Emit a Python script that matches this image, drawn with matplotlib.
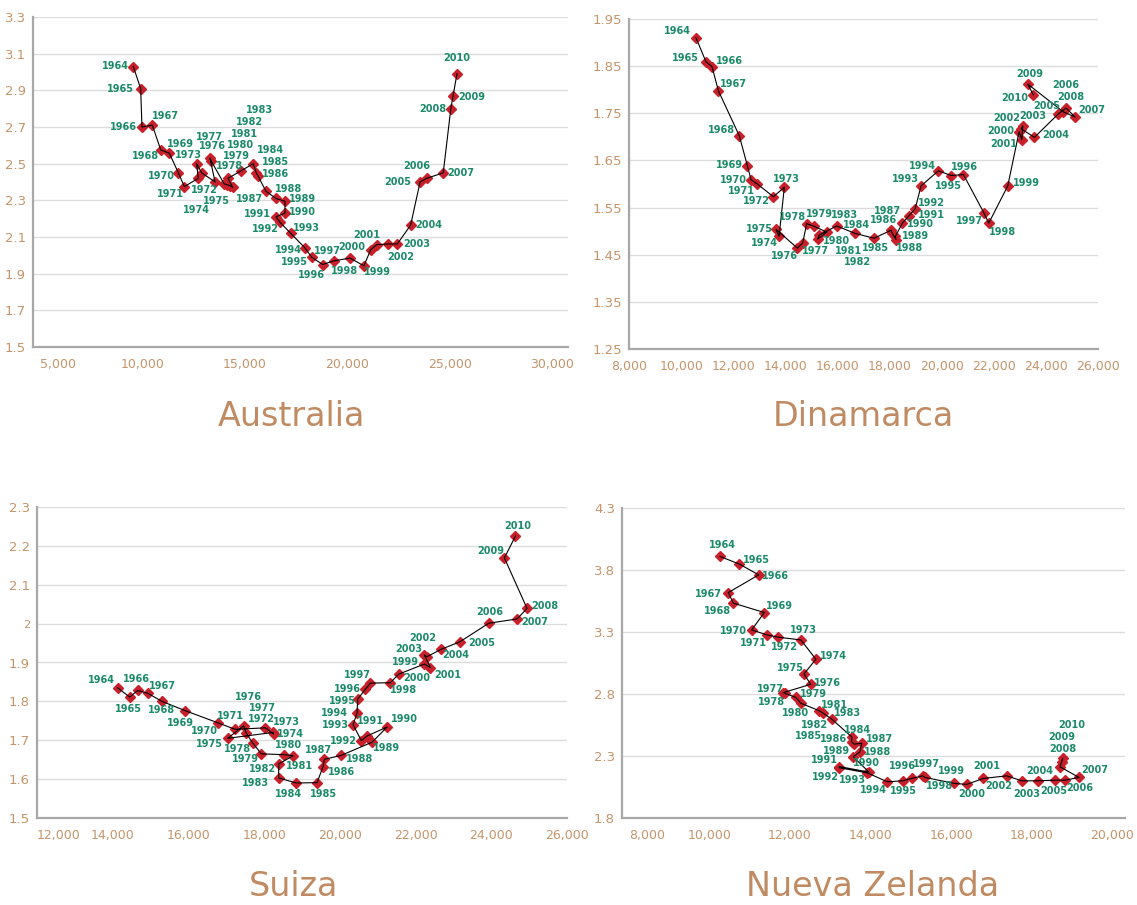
import matplotlib
matplotlib.use('Agg')
import matplotlib.pyplot as plt
from matplotlib import font_manager, transforms

years = list(range(1964, 2011))

aus_x = [9550, 9910, 9975, 10480, 10890, 11310, 11750, 12040, 12720, 12640,
         12890, 13540, 13290, 13350, 13980, 14110, 14270, 14400, 14170, 14790,
         15400, 15550, 15650, 16020, 16510, 16950, 16950, 16510, 16710, 17230,
         17930, 18250, 18790, 19340, 20120, 20800, 21130, 21420, 21990, 22430,
         23080, 23540, 23860, 24670, 25040, 25150, 25340]
aus_y = [3.03, 2.91, 2.70, 2.71, 2.575, 2.557, 2.45, 2.375, 2.42, 2.50,
         2.45, 2.40, 2.53, 2.515, 2.39, 2.386, 2.38, 2.37, 2.42, 2.46,
         2.50, 2.45, 2.43, 2.35, 2.31, 2.295, 2.23, 2.21, 2.18, 2.12,
         2.04, 1.99, 1.95, 1.97, 1.985, 1.943, 2.03, 2.058, 2.062, 2.062,
         2.165, 2.40, 2.42, 2.45, 2.80, 2.87, 2.99]

din_x = [10572, 10956, 11186, 11429, 12235, 12542, 12684, 12926, 13540, 13962,
         13759, 13643, 14461, 14666, 14820, 15112, 15590, 15240, 15305, 15970,
         16688, 17406, 18058, 18096, 18250, 18224, 18492, 18749, 18980, 19210,
         19874, 20362, 20835, 21628, 21807, 22537, 22972, 23075, 23113, 23050,
         23561, 24482, 24778, 25124, 24670, 23303, 23518]
din_y = [1.910, 1.859, 1.849, 1.798, 1.702, 1.639, 1.609, 1.600, 1.573, 1.593,
         1.489, 1.504, 1.464, 1.475, 1.516, 1.510, 1.498, 1.483, 1.492, 1.511,
         1.495, 1.485, 1.502, 1.496, 1.482, 1.489, 1.517, 1.533, 1.547, 1.596,
         1.628, 1.618, 1.620, 1.538, 1.517, 1.596, 1.711, 1.694, 1.723, 1.717,
         1.699, 1.749, 1.761, 1.742, 1.753, 1.812, 1.789]

sui_x = [14130, 14447, 14658, 14922, 15302, 15918, 16772, 17239, 18032, 18251,
         18235, 17036, 17459, 17530, 17697, 17926, 18516, 18764, 18384, 18384,
         18851, 19398, 19556, 19591, 20032, 20851, 21247, 20719, 20568, 20349,
         20454, 20471, 20674, 20806, 21334, 21553, 22233, 22391, 22233, 22304,
         22674, 23166, 23933, 24680, 24945, 24346, 24637]
sui_y = [1.835, 1.811, 1.828, 1.821, 1.800, 1.776, 1.745, 1.728, 1.732, 1.716,
         1.720, 1.705, 1.737, 1.718, 1.693, 1.665, 1.663, 1.660, 1.639, 1.603,
         1.590, 1.591, 1.632, 1.651, 1.661, 1.695, 1.734, 1.711, 1.699, 1.740,
         1.770, 1.806, 1.831, 1.847, 1.848, 1.870, 1.896, 1.887, 1.919, 1.915,
         1.934, 1.953, 2.001, 2.012, 2.039, 2.169, 2.225]

nz_x = [10260, 10740, 11222, 10467, 10591, 11361, 11048, 11421, 11709, 12271,
        12643, 12347, 12512, 11833, 11875, 12140, 12271, 12727, 12826, 13035,
        13534, 13531, 13589, 13780, 13738, 13572, 13960, 13224, 13224, 13920,
        14416, 14799, 15022, 15295, 15353, 16081, 16389, 16801, 17382, 17754,
        18167, 18582, 18830, 19178, 18707, 18748, 18773]
nz_y = [3.909, 3.848, 3.761, 3.618, 3.533, 3.457, 3.317, 3.277, 3.258, 3.236,
        3.080, 2.962, 2.878, 2.811, 2.806, 2.773, 2.725, 2.665, 2.644, 2.598,
        2.454, 2.415, 2.396, 2.402, 2.334, 2.294, 2.170, 2.215, 2.205, 2.164,
        2.092, 2.100, 2.119, 2.140, 2.127, 2.079, 2.071, 2.119, 2.140, 2.100,
        2.100, 2.105, 2.105, 2.127, 2.213, 2.253, 2.281]

# where each year label sits relative to its marker (pixels, right / down)
aus_off = [(-18, -1), (-20, 0), (-19, 0), (13, -9), (-15, 6), (11, -9), (-17, 3), (-14, 7), (6, 12), (-8, -9),
           (-5, 37), (1, 19), (2, -12), (-2, -24), (5, -18), (10, -29), (10, -41), (12, -54), (22, -56), (19, -61),
           (17, -14), (19, -11), (17, -3), (-16, 8), (13, -10), (18, -2), (17, -1), (-19, -3), (-15, 7), (16, -5),
           (-17, 2), (-17, 5), (-11, 10), (-7, -10), (-5, 13), (14, 6), (-19, -3), (-10, -10), (12, 13), (19, 0),
           (18, 0), (-22, 0), (-10, -12), (18, 0), (-18, 0), (19, 1), (0, -16)]
din_off = [(-19, -7), (-21, -4), (17, -6), (15, -7), (-18, -6), (-18, -1), (-18, 0), (-16, 7), (-17, 4), (2, -8),
           (-15, 7), (-17, 0), (-13, 8), (13, 8), (-14, -7), (5, -12), (10, 9), (31, 12), (38, 27), (8, -11),
           (1, -9), (1, 10), (-8, -10), (-5, -22), (13, 8), (20, 0), (18, 1), (22, -1), (16, -6), (-16, -7),
           (-16, -5), (-3, 10), (1, -8), (-15, 8), (14, 9), (19, -3), (-18, -1), (-18, 4), (-16, -8), (12, -13),
           (21, -2), (-12, -8), (0, -23), (17, -7), (7, -15), (2, -10), (-19, 3)]
sui_off = [(-16, -8), (-1, 12), (-1, -11), (15, -7), (-1, 9), (-5, 12), (-13, 8), (-5, -13), (-4, -9), (13, -12),
           (17, 2), (-18, 6), (5, -29), (16, -25), (-15, 6), (-16, 5), (5, -10), (6, 10), (-16, 5), (-23, 5),
           (-8, 11), (6, 11), (18, 5), (-6, -9), (18, 4), (14, 6), (17, -8), (3, -15), (-18, 0), (-18, 0),
           (-23, 0), (-15, 2), (-18, 0), (-13, -8), (13, 7), (7, -12), (-8, 14), (17, 7), (-2, -17), (-18, -8),
           (15, 6), (22, 1), (1, -11), (18, 3), (18, -2), (-14, -7), (2, -10)]
nz_off = [(2, -11), (17, -4), (17, 1), (-20, 1), (-16, 8), (15, -7), (-18, 1), (-13, 8), (6, 10), (2, -10),
          (18, -3), (-14, -6), (17, -1), (-13, -4), (-13, 9), (18, -3), (-5, 10), (15, -6), (-9, 12), (16, -6),
          (6, -7), (-43, -6), (-20, -5), (18, -4), (18, 0), (-17, -6), (-2, -9), (-15, -7), (-14, 9), (-15, 7),
          (-14, 8), (1, 10), (-9, -12), (4, -12), (14, 9), (-3, -12), (5, 10), (3, -12), (-8, 10), (5, 13),
          (1, -10), (-1, 11), (15, 8), (16, -7), (3, -18), (0, -25), (9, -33)]

W, H = 1137, 905
TAN = '#c4956c'
TITLE = '#c08b62'
GREEN = '#1b8a69'
RED = '#c8202a'

names = {f.name for f in font_manager.fontManager.ttflist}
lab_font = 'Liberation Sans Narrow' if 'Liberation Sans Narrow' in names else 'DejaVu Sans'
lab_size = 9 if lab_font == 'Liberation Sans Narrow' else 7

fig = plt.figure(figsize=(W / 100, H / 100), dpi=100)


def panel(box, xs, ys, offs, xlim, ylim, xticks, yticks, ylabels, title, tpos,
          first_left=True, xshift=0):
    l, t, r, b = box
    ax = fig.add_axes([l / W, 1 - b / H, (r - l) / W, (b - t) / H])
    ax.set_xlim(xlim)
    ax.set_ylim(ylim)
    ax.set_xticks(xticks)
    ax.set_xticklabels(['{:,}'.format(v) for v in xticks])
    ax.set_yticks(yticks)
    ax.set_yticklabels(ylabels)
    if first_left:
        ax.get_xticklabels()[0].set_ha('left')
    if xshift:
        shift = transforms.ScaledTranslation(xshift / 100, 0, fig.dpi_scale_trans)
        for lab in ax.get_xticklabels():
            lab.set_transform(lab.get_transform() + shift)
    ax.grid(axis='y', color='#dcdcdc', lw=1)
    ax.set_axisbelow(True)
    for s in ['top', 'right']:
        ax.spines[s].set_visible(False)
    for s in ['left', 'bottom']:
        ax.spines[s].set_color('#a8a8a8')
        ax.spines[s].set_linewidth(1.6)
    ax.tick_params(length=0, colors=TAN)
    ax.tick_params(axis='x', pad=8, labelsize=9)
    ax.tick_params(axis='y', pad=5, labelsize=9.5)
    ax.plot(xs, ys, 'D', color=RED, ms=5.5, zorder=3)
    ax.plot(xs, ys, '-', color='black', lw=0.8, zorder=4)
    for yr, x, y, (dx, dy) in zip(years, xs, ys, offs):
        ax.annotate(str(yr), (x, y), xytext=(dx, -dy), textcoords='offset pixels',
                    ha='center', va='center', fontsize=lab_size, fontweight='bold',
                    family=lab_font, color=GREEN, annotation_clip=False, zorder=5)
    fig.text(tpos[0] / W, 1 - tpos[1] / H, title, ha='center', va='center',
             fontsize=24, color=TITLE)
    return ax


panel((33, 17, 568, 347), aus_x, aus_y, aus_off, (4659, 30756), (1.5, 3.3),
      [5000, 10000, 15000, 20000, 25000, 30000],
      [1.5, 1.7, 1.9, 2.1, 2.3, 2.5, 2.7, 2.9, 3.1, 3.3],
      ['1.5', '1.7', '1.9', '2.1', '2.3', '2.5', '2.7', '2.9', '3.1', '3.3'],
      'Australia', (291, 416))

panel((629, 19, 1098, 349), din_x, din_y, din_off, (8000, 26000), (1.25, 1.95),
      [8000, 10000, 12000, 14000, 16000, 18000, 20000, 22000, 24000, 26000],
      [1.25, 1.35, 1.45, 1.55, 1.65, 1.75, 1.85, 1.95],
      ['1.25', '1.35', '1.45', '1.55', '1.65', '1.75', '1.85', '1.95'],
      'Dinamarca', (863, 416), first_left=False, xshift=5)

ax3 = panel((37, 507, 567, 818), sui_x, sui_y, sui_off, (12000, 26000), (1.5, 2.3),
            [12000, 14000, 16000, 18000, 20000, 22000, 24000, 26000],
            [1.5, 1.6, 1.7, 1.8, 1.9, 2.0, 2.1, 2.2, 2.3],
            ['1.5', '1.6', '1.7', '1.8', '1.9', '2', '2.1', '2.2', '2.3'],
            'Suiza', (293, 886))
ax3.get_yticklabels()[5].set_fontsize(8)

panel((622, 508, 1125, 818), nz_x, nz_y, nz_off, (7826, 20321), (1.8, 4.3),
      [8000, 10000, 12000, 14000, 16000, 18000, 20000],
      [1.8, 2.3, 2.8, 3.3, 3.8, 4.3],
      ['1.8', '2.3', '2.8', '3.3', '3.8', '4.3'],
      'Nueva Zelanda', (873, 886))

plt.savefig('out.png', dpi=100)
